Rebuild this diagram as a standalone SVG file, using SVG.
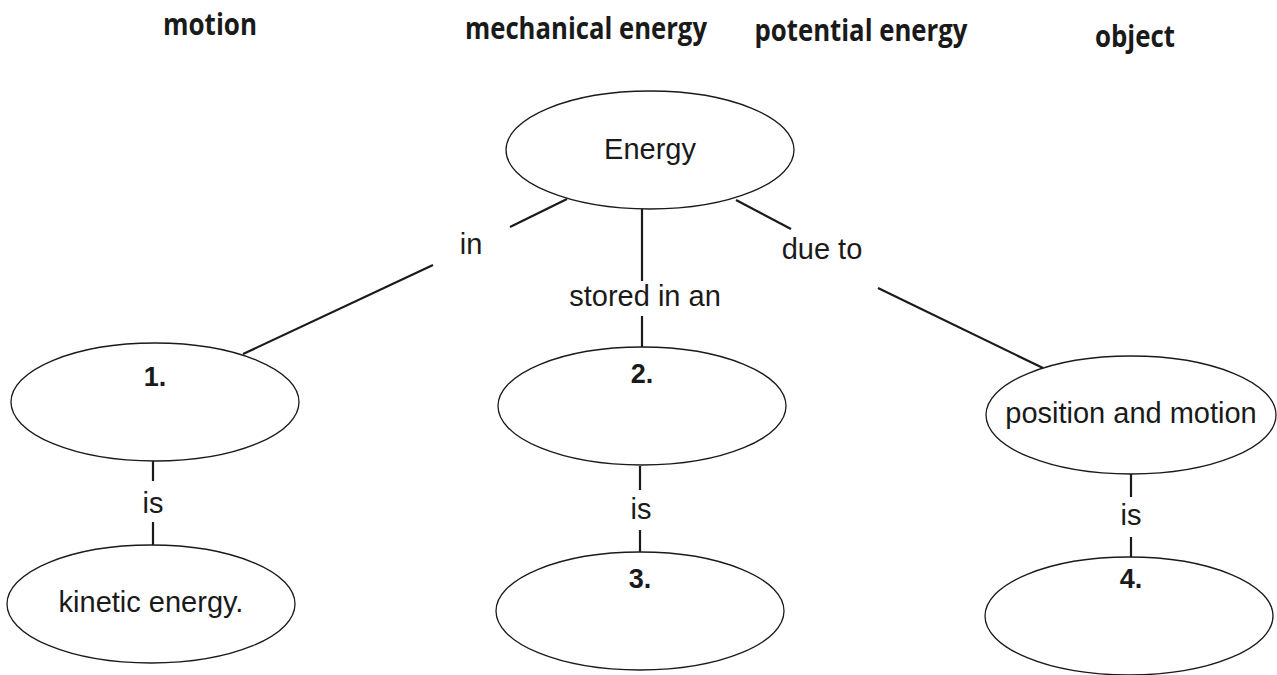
<svg xmlns="http://www.w3.org/2000/svg" width="1277" height="675" viewBox="0 0 1277 675">
<style>
.bg{fill:#ffffff}
.node ellipse{fill:none;stroke:#1a1a1a;stroke-width:1.3}
.lbl{font-family:"Liberation Sans",Arial,sans-serif;font-size:29px;fill:#1a1a1a;text-anchor:middle}
.num{font-family:"Liberation Sans",Arial,sans-serif;font-size:27px;font-weight:bold;fill:#1a1a1a;text-anchor:middle}
.word{font-family:"Open Sans","Liberation Sans",sans-serif;font-size:30px;font-weight:bold;fill:#1a1a1a;text-anchor:middle}
#connectors line{stroke:#1a1a1a;stroke-width:2.2}
</style>
<rect class="bg" x="0" y="0" width="1277" height="675"/>
<g id="wordbank">
<text class="word" x="210" y="35" textLength="94" lengthAdjust="spacingAndGlyphs">motion</text>
<text class="word" x="586" y="39" textLength="242" lengthAdjust="spacingAndGlyphs">mechanical energy</text>
<text class="word" x="861" y="41" textLength="213" lengthAdjust="spacingAndGlyphs">potential energy</text>
<text class="word" x="1135" y="47" textLength="80" lengthAdjust="spacingAndGlyphs">object</text>
</g>
<g id="connectors">
<line x1="567" y1="199" x2="510" y2="227"/>
<line x1="433" y1="265" x2="243" y2="354"/>
<line x1="642" y1="209" x2="642" y2="281"/>
<line x1="642" y1="316" x2="642" y2="347"/>
<line x1="736" y1="200" x2="791" y2="229"/>
<line x1="878" y1="288" x2="1043" y2="368"/>
<line x1="153" y1="461" x2="153" y2="481"/>
<line x1="153" y1="522" x2="153" y2="545"/>
<line x1="640" y1="466" x2="640" y2="490"/>
<line x1="640" y1="530" x2="640" y2="552"/>
<line x1="1131" y1="474" x2="1131" y2="497"/>
<line x1="1131" y1="537" x2="1131" y2="557"/>
<text class="lbl" x="471" y="254">in</text>
<text class="lbl" x="645" y="306">stored in an</text>
<text class="lbl" x="822" y="259">due to</text>
<text class="lbl" x="153" y="513">is</text>
<text class="lbl" x="641" y="519">is</text>
<text class="lbl" x="1131" y="525">is</text>
</g>
<g id="node-energy" class="node">
<ellipse cx="650" cy="150" rx="144" ry="59"/>
<text class="lbl" x="650" y="159">Energy</text>
</g>
<g id="node-1" class="node">
<ellipse cx="155" cy="402" rx="144" ry="59"/>
<text class="num" x="155" y="386">1.</text>
</g>
<g id="node-kinetic" class="node">
<ellipse cx="151" cy="604" rx="144" ry="59"/>
<text class="lbl" x="151" y="612">kinetic energy.</text>
</g>
<g id="node-2" class="node">
<ellipse cx="642" cy="406" rx="144" ry="59"/>
<text class="num" x="642" y="383">2.</text>
</g>
<g id="node-3" class="node">
<ellipse cx="640" cy="611" rx="144" ry="59"/>
<text class="num" x="640" y="588">3.</text>
</g>
<g id="node-position" class="node">
<ellipse cx="1131" cy="415" rx="145" ry="59"/>
<text class="lbl" x="1131" y="423">position and motion</text>
</g>
<g id="node-4" class="node">
<ellipse cx="1129" cy="616" rx="144" ry="59"/>
<text class="num" x="1131" y="588">4.</text>
</g>
</svg>
